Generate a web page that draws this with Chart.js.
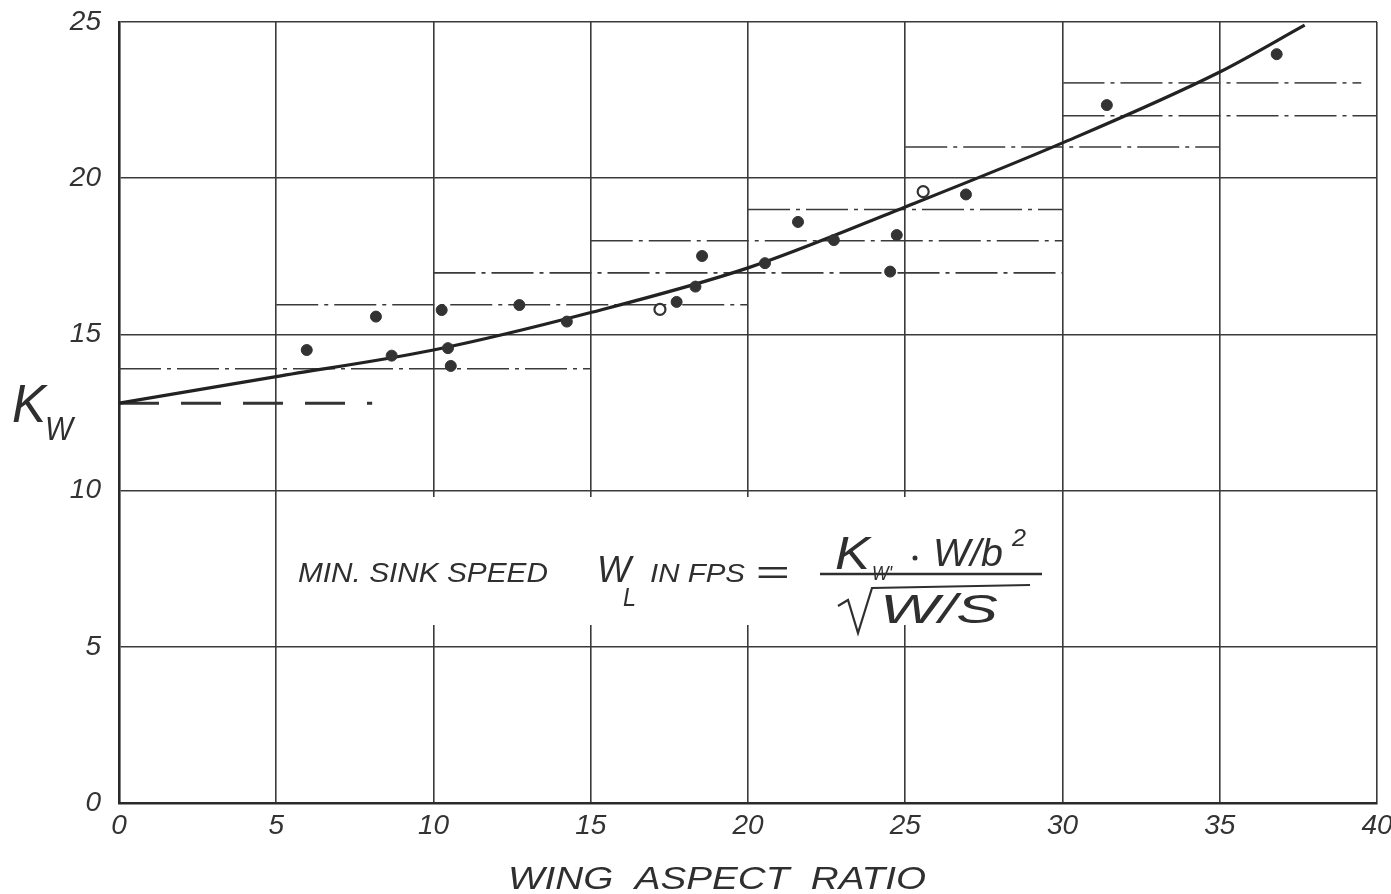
<!DOCTYPE html>
<html>
<head>
<meta charset="utf-8">
<title>Kw vs wing aspect ratio</title>
<script src="https://cdn.jsdelivr.net/npm/chart.js@4.4.0/dist/chart.umd.min.js"></script>
<style>
  html, body { margin: 0; padding: 0; background: #fff; }
  #wrap { width: 1391px; height: 894px; }
</style>
</head>
<body>
<div id="wrap"><canvas id="chart" width="1391" height="894"></canvas></div>
<script>
// tick values
const xTicks = [0, 5, 10, 15, 20, 25, 30, 35, 40];
const yTicks = [0, 5, 10, 15, 20, 25];

// measured points (filled)
const aspectRatio = [5.97, 8.17, 8.67, 10.26, 10.46, 10.55, 12.73, 14.24, 17.73, 18.33, 18.54, 20.54, 21.59, 22.73, 24.52, 24.73, 26.93, 31.41, 36.81];
const kwValues    = [14.50, 15.57, 14.32, 15.78, 14.56, 13.99, 15.94, 15.41, 16.04, 16.53, 17.51, 17.28, 18.60, 18.02, 17.01, 18.18, 19.48, 22.34, 23.97];

// open markers
const openAspect = [17.20, 25.57];
const openKw = [15.80, 19.57];

// faired curve
const fitAspect = [0, 5, 10, 15, 20, 25, 30, 35, 37.7];
const fitKw = [12.8, 13.65, 14.5, 15.7, 17.13, 19.08, 21.13, 23.4, 24.9];

// dashed intercept line
const dashAspect = [0, 8.05];
const dashKw = [12.8, 12.8];

// dash-dot band lines
const bandLevels = [13.9, 15.95, 16.97, 18.0, 19.0, 21.0, 22.0, 23.05];
const bandFrom = [0, 5, 10, 15, 20, 25, 30, 30];
const bandTo = [15, 20, 30, 30, 30, 35, 40, 39.5];

const ink = '#2f2f2f';
const hand = '"Liberation Sans", "DejaVu Sans", sans-serif';

function toPoints(xs, ys) {
  return xs.map((x, i) => ({ x: x, y: ys[i] }));
}

const bandSets = bandLevels.map((lvl, i) => ({
  data: [{ x: bandFrom[i], y: lvl }, { x: bandTo[i], y: lvl }],
  showLine: true,
  borderColor: i === 7 ? '#555' : '#3a3a3a',
  borderWidth: 1.6,
  borderDash: [42, 6, 4, 6],
  pointRadius: 0,
  order: 5
}));

function fitText(ctx, str, x, y, w, size) {
  ctx.font = 'italic ' + size + 'px ' + hand;
  const m = ctx.measureText(str).width;
  ctx.save();
  ctx.translate(x, y);
  ctx.scale(w / m, 1);
  ctx.fillText(str, 0, 0);
  ctx.restore();
}

const handText = {
  id: 'handText',
  beforeDatasetsDraw(chart) {
    const ctx = chart.ctx;
    ctx.save();
    // gap left in the grid for the formula
    ctx.fillStyle = '#fff';
    ctx.fillRect(292, 497, 756, 128);

    ctx.fillStyle = ink;
    ctx.strokeStyle = ink;
    ctx.textBaseline = 'alphabetic';
    fitText(ctx, 'MIN. SINK SPEED', 298, 582, 250, 28);
    fitText(ctx, 'W', 597, 582, 34, 36);
    fitText(ctx, 'L', 623, 606, 13, 26);
    fitText(ctx, 'IN FPS', 650, 582, 95, 26);
    fitText(ctx, '=', 755, 584, 34, 34);

    // fraction bar
    ctx.lineWidth = 2.5;
    ctx.beginPath();
    ctx.moveTo(820, 574);
    ctx.lineTo(1042, 574);
    ctx.stroke();

    fitText(ctx, 'K', 835, 569, 35, 46);
    fitText(ctx, 'W\'', 872, 580, 20, 20);
    ctx.beginPath();
    ctx.arc(915, 558, 2.5, 0, Math.PI * 2);
    ctx.fill();
    fitText(ctx, 'W/b', 933, 566, 70, 38);
    fitText(ctx, '2', 1012, 546, 14, 24);

    // root sign
    ctx.lineWidth = 2.2;
    ctx.beginPath();
    ctx.moveTo(838, 606);
    ctx.lineTo(848, 600);
    ctx.lineTo(858, 633);
    ctx.lineTo(872, 588);
    ctx.lineTo(1030, 585);
    ctx.stroke();
    fitText(ctx, 'W/S', 880, 623, 118, 40);

    // axis titles
    fitText(ctx, 'K', 12, 422, 34, 54);
    fitText(ctx, 'W', 45, 440, 28, 34);
    fitText(ctx, 'WING  ASPECT  RATIO', 508, 889, 418, 32);
    ctx.restore();
  }
};

new Chart(document.getElementById('chart'), {
  type: 'scatter',
  data: {
    datasets: [
      {
        data: toPoints(aspectRatio, kwValues),
        pointRadius: 5.5,
        pointBackgroundColor: '#333',
        pointBorderColor: '#333',
        pointBorderWidth: 1,
        order: 0
      },
      {
        data: toPoints(openAspect, openKw),
        pointRadius: 5.5,
        pointStyle: 'circle',
        pointBackgroundColor: '#fff',
        pointBorderColor: '#333',
        pointBorderWidth: 2.2,
        order: 0
      },
      {
        data: toPoints(fitAspect, fitKw),
        showLine: true,
        borderColor: '#222',
        borderWidth: 3.2,
        cubicInterpolationMode: 'monotone',
        pointRadius: 0,
        order: 1
      },
      {
        data: toPoints(dashAspect, dashKw),
        showLine: true,
        borderColor: '#333',
        borderWidth: 3,
        borderDash: [40, 22],
        pointRadius: 0,
        order: 2
      },
      ...bandSets
    ]
  },
  options: {
    responsive: false,
    animation: false,
    layout: { padding: { top: 22, right: 14, left: 0, bottom: 0 } },
    plugins: {
      legend: { display: false },
      tooltip: { enabled: false }
    },
    scales: {
      x: {
        type: 'linear',
        min: xTicks[0],
        max: xTicks[xTicks.length - 1],
        afterBuildTicks: s => { s.ticks = xTicks.map(v => ({ value: v })); },
        afterFit: s => { s.height = 91; s.paddingLeft = 0; s.paddingRight = 0; },
        ticks: {
          color: '#333',
          padding: 6,
          font: { family: hand, size: 28, style: 'italic' }
        },
        grid: { color: '#3a3a3a', lineWidth: 1.6, drawTicks: false },
        border: { display: true, color: '#2a2a2a', width: 2.6 }
      },
      y: {
        min: yTicks[0],
        max: yTicks[yTicks.length - 1],
        afterBuildTicks: s => { s.ticks = yTicks.map(v => ({ value: v })); },
        afterFit: s => { s.width = 119; s.paddingTop = 0; s.paddingBottom = 0; },
        ticks: {
          color: '#333',
          padding: 18,
          font: { family: hand, size: 28, style: 'italic' }
        },
        grid: { color: '#3a3a3a', lineWidth: 1.6, drawTicks: false },
        border: { display: true, color: '#2a2a2a', width: 2.6 }
      }
    }
  },
  plugins: [handText]
});
</script>
</body>
</html>
